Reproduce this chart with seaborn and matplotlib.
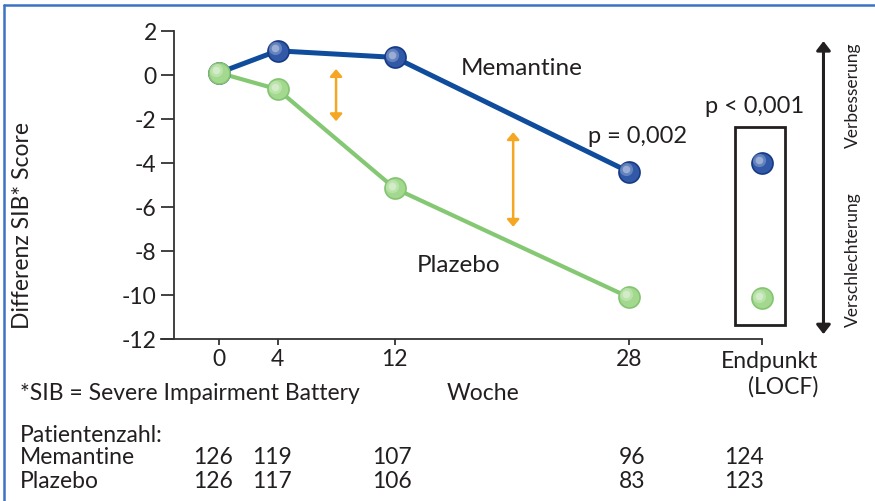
import numpy as np
import pandas as pd
import seaborn as sns
import matplotlib.pyplot as plt
from matplotlib.lines import Line2D
from matplotlib.patches import Rectangle
import matplotlib.transforms as mtransforms

# data ----------------------------------------------------
weeks = [0, 4, 12, 28]
memantine = [0.1, 1.1, 0.8, -4.4]
plazebo = [0.1, -0.65, -5.15, -10.1]
end_memantine = -4.0
end_plazebo = -10.15
ENDPOS = 37.1  # where the "Endpunkt" column sits on the week axis

tick_pos = [0, 4, 12, 28, ENDPOS]
tick_labels = ["0", "4", "12", "28", "Endpunkt\n(LOCF)"]
yticks = [2, 0, -2, -4, -6, -8, -10, -12]

n_memantine = [126, 119, 107, 96, 124]
n_plazebo = [126, 117, 106, 83, 123]
col_x = [-0.4, 3.6, 11.8, 28.2, 35.9]

BLUE = "#0f4c9b"
BLUE_DOT = "#3159a8"
BLUE_EDGE = "#173a85"
GREEN = "#85c874"
GREEN_DOT = "#a3d98f"
GREEN_EDGE = "#84c471"
ORANGE = "#f5a623"
INK = "#231f20"
FS = 16.5

sns.set_theme(style="white")
plt.rcParams["font.family"] = ["Lato", "DejaVu Sans"]

df = pd.DataFrame({
    "week": weeks * 2,
    "score": memantine + plazebo,
    "group": ["Memantine"] * 4 + ["Plazebo"] * 4,
})
ends = pd.DataFrame({"week": [ENDPOS, ENDPOS], "score": [end_memantine, end_plazebo],
                     "group": ["Memantine", "Plazebo"]})
dot_pal = {"Memantine": BLUE_DOT, "Plazebo": GREEN_DOT}

fig = plt.figure(figsize=(8.75, 5.01), dpi=100)
ax = fig.add_axes([161 / 875, 1 - 339 / 501, (762 - 161) / 875, (339 - 31) / 501])

sns.lineplot(data=df[df.group == "Memantine"], x="week", y="score", color=BLUE,
             linewidth=3.6, ax=ax, zorder=2, legend=False)
sns.lineplot(data=df[df.group == "Plazebo"], x="week", y="score", color=GREEN,
             linewidth=3.0, ax=ax, zorder=3, legend=False)

# shaded ball markers: base disc + soft highlight shifted up-left
hl = mtransforms.offset_copy(ax.transData, fig=fig, x=-2.0, y=2.0, units="points")
for grp, edge, zo in [("Memantine", BLUE_EDGE, 4), ("Plazebo", GREEN_EDGE, 6)]:
    pts = pd.concat([df[df.group == grp], ends[ends.group == grp]])
    sns.scatterplot(data=pts, x="week", y="score", color=dot_pal[grp], s=230,
                    edgecolor=edge, linewidth=1.2, ax=ax, zorder=zo, clip_on=False, legend=False)
    ax.scatter(pts.week, pts.score, s=90, color="white", alpha=0.25, linewidths=0,
               transform=hl, zorder=zo + 0.5, clip_on=False)
    ax.scatter(pts.week, pts.score, s=30, color="white", alpha=0.35, linewidths=0,
               transform=hl, zorder=zo + 0.6, clip_on=False)

ax.set_xlim(-3.96, ENDPOS)
ax.set_ylim(-12, 2)
ax.spines["top"].set_visible(False)
ax.spines["right"].set_visible(False)
ax.spines["left"].set_position(("data", -3.07))
for s in ["left", "bottom"]:
    ax.spines[s].set_color("#333333")
    ax.spines[s].set_linewidth(1.3)

ax.set_yticks(yticks)
ax.set_yticklabels([str(v) for v in yticks])
ax.set_xticks(tick_pos)
ax.set_xticklabels(tick_labels, multialignment="right")
ax.tick_params(axis="y", direction="out", length=9.5, width=1.3, color="#333333",
               labelsize=FS, labelcolor=INK, pad=3, left=True)
ax.tick_params(axis="x", direction="out", length=4.5, width=1.3, color="#333333",
               labelsize=FS, labelcolor=INK, pad=3, bottom=True)
# the Endpunkt label sits a bit right of its tick
last = ax.get_xticklabels()[-1]
last.set_transform(last.get_transform() + mtransforms.ScaledTranslation(8 / 100, -2 / 100, fig.dpi_scale_trans))
ax.set_xlabel("")
ax.set_ylabel("Differenz SIB* Score", fontsize=FS, color=INK)
ax.yaxis.set_label_coords(-0.213, 0.367)

# annotations -----------------------------------------------
ax.text(20.7, 0.3, "Memantine", fontsize=17.5, color=INK, ha="center", va="center")
ax.text(16.4, -8.65, "Plazebo", fontsize=17.5, color=INK, ha="center", va="center")
ax.text(28.6, -2.8, "p = 0,002", fontsize=17, color=INK, ha="center", va="center")
ax.text(36.6, -1.45, "p < 0,001", fontsize=17, color=INK, ha="center", va="center",
        clip_on=False)

for x, y0, y1 in [(8.0, 0.27, -2.1), (20.1, -2.6, -6.9)]:
    ax.annotate("", xy=(x, y1), xytext=(x, y0),
                arrowprops=dict(arrowstyle="<|-|>,head_length=0.35,head_width=0.3",
                                color=ORANGE, lw=1.8, shrinkA=0, shrinkB=0))

ax.add_patch(Rectangle((35.25, -11.37), 3.45, 9.01, fill=False, edgecolor=INK,
                       linewidth=2, clip_on=False, zorder=5))

ax.annotate("", xy=(41.3, -11.78), xytext=(41.3, 1.54), annotation_clip=False,
            arrowprops=dict(arrowstyle="<|-|>,head_length=0.45,head_width=0.35",
                            color=INK, lw=2.2, shrinkA=0, shrinkB=0))
ax.text(43.3, -0.9, "Verbesserung", rotation=90, fontsize=12.5, color=INK,
        ha="center", va="center", clip_on=False)
ax.text(43.3, -8.4, "Verschlechterung", rotation=90, fontsize=12.5, color=INK,
        ha="center", va="center", clip_on=False)

# text below the chart --------------------------------------
def fy(py):
    return 1 - py / 501

fig.text(20 / 875, fy(393), "*SIB = Severe Impairment Battery", fontsize=FS, color=INK, va="center")
fig.text(483 / 875, fy(393), "Woche", fontsize=FS, color=INK, ha="center", va="center")
fig.text(20 / 875, fy(436), "Patientenzahl:", fontsize=FS, color=INK, va="center")
fig.text(20 / 875, fy(458), "Memantine", fontsize=FS, color=INK, va="center")
fig.text(20 / 875, fy(481), "Plazebo", fontsize=FS, color=INK, va="center")
blend = mtransforms.blended_transform_factory(ax.transData, fig.transFigure)
for x, a, b in zip(col_x, n_memantine, n_plazebo):
    fig.text(x, fy(458), str(a), fontsize=FS, color=INK, ha="center", va="center", transform=blend)
    fig.text(x, fy(481), str(b), fontsize=FS, color=INK, ha="center", va="center", transform=blend)

# light blue frame (top and left edges show)
fig.add_artist(Line2D([4 / 875, 4 / 875], [0, fy(5)], color="#3d72c2", lw=1.8))
fig.add_artist(Line2D([4 / 875, 1], [fy(5), fy(5)], color="#3d72c2", lw=1.8))

fig.savefig("out.png", dpi=100)
